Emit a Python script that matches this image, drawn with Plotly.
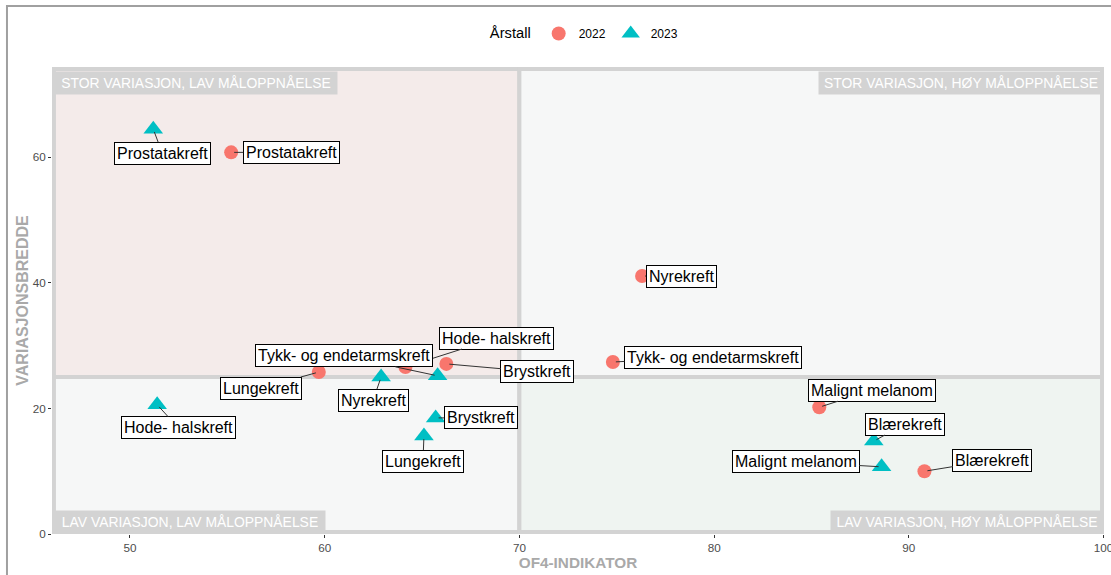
import plotly.graph_objects as go

# ---- data ----
cancers_2022 = ["Prostatakreft", "Nyrekreft", "Tykk- og endetarmskreft", "Lungekreft",
                "Hode- halskreft", "Brystkreft", "Malignt melanom", "Blærekreft"]
of4_2022 = [55.2, 76.3, 74.8, 59.7, 64.15, 66.25, 85.4, 90.8]
var_2022 = [60.8, 41.1, 27.4, 25.8, 26.6, 27.1, 20.2, 10.0]

cancers_2023 = ["Prostatakreft", "Hode- halskreft", "Nyrekreft", "Tykk- og endetarmskreft",
                "Brystkreft", "Lungekreft", "Blærekreft", "Malignt melanom"]
of4_2023 = [51.2, 51.4, 62.9, 65.8, 65.7, 65.1, 88.2, 88.6]
var_2023 = [64.5, 20.6, 25.0, 25.2, 18.5, 15.6, 14.8, 10.7]

# label offsets (pixels) for the repelled labels
off_2022 = [(60, 0), (39, 0), (100, -5), (-58, 16), (91, -29), (91, 8), (53, -17), (68, -11)]
off_2023 = [(9, 24), (21, 23), (-8, 23), (-94, -20), (45, 0), (-1, 25), (31, -17), (-86, -5)]

x_split = 70
y_split = 25
x_range = [46.0, 100.02]
y_range = [0, 74.4]
x_ticks = [50, 60, 70, 80, 90, 100]
y_ticks = [0, 20, 40, 60]

quadrant_labels = ["STOR VARIASJON, LAV MÅLOPPNÅELSE", "STOR VARIASJON, HØY MÅLOPPNÅELSE",
                   "LAV VARIASJON, LAV MÅLOPPNÅELSE", "LAV VARIASJON, HØY MÅLOPPNÅELSE"]
quadrant_widths = [276, 278, 264, 266]

FONT = "Arial, Liberation Sans, sans-serif"
C2022 = "#F8766D"
C2023 = "#00BFC4"

fig = go.Figure()
fig.add_trace(go.Scatter(x=of4_2022, y=var_2022, mode="markers", name="2022",
                         marker=dict(symbol="circle", size=14, color=C2022)))
fig.add_trace(go.Scatter(x=of4_2023, y=var_2023, mode="markers", name="2023",
                         marker=dict(symbol="triangle-up", size=17, color=C2023)))

# quadrant rectangles
ix = 0.1
iy = 0.32
quads = [
    (x_range[0] + ix, x_split, y_split, y_range[1] - iy, "#f4ebea"),
    (x_split, x_range[1] - ix, y_split, y_range[1] - iy, "#f6f7f7"),
    (x_range[0] + ix, x_split, y_range[0] + iy, y_split, "#f6f7f7"),
    (x_split, x_range[1] - ix, y_range[0] + iy, y_split, "#eff4f1"),
]
shapes = []
for x0, x1, y0, y1, col in quads:
    shapes.append(dict(type="rect", xref="x", yref="y", x0=x0, x1=x1, y0=y0, y1=y1,
                       fillcolor=col, line=dict(color="#d3d3d3", width=4), layer="below"))
# outer frame
shapes.append(dict(type="rect", xref="paper", yref="paper", x0=-0.0428, x1=1.02,
                   y0=-0.11, y1=1.1306, line=dict(color="#a0a0a0", width=2),
                   fillcolor="rgba(0,0,0,0)", layer="above"))

annotations = []
# quadrant corner labels
corner_pos = [(0, 1, "left", "top"), (1, 1, "right", "top"),
              (0, 0, "left", "bottom"), (1, 0, "right", "bottom")]
for txt, w, (px, py, xa, ya) in zip(quadrant_labels, quadrant_widths, corner_pos):
    annotations.append(dict(text=txt, xref="paper", yref="paper", x=px, y=py,
                            xanchor=xa, yanchor=ya, showarrow=False, width=w,
                            xshift=2 if px == 0 else 0, yshift=-4 if py == 1 else 0,
                            font=dict(family=FONT, size=13.9, color="white"),
                            bgcolor="#d3d3d3", borderpad=3))

def add_labels(names, xs, ys, offs):
    for n, x, y, (ax, ay) in zip(names, xs, ys, offs):
        annotations.append(dict(text=n, x=x, y=y, xref="x", yref="y", ax=ax, ay=ay,
                                showarrow=True, arrowhead=0, arrowwidth=1,
                                arrowcolor="#333333", standoff=3,
                                font=dict(family=FONT, size=16, color="black"),
                                bgcolor="white", bordercolor="black", borderwidth=1,
                                borderpad=2))

add_labels(cancers_2022, of4_2022, var_2022, off_2022)
add_labels(cancers_2023, of4_2023, var_2023, off_2023)

fig.update_layout(
    width=1111, height=575,
    margin=dict(l=52, r=7, t=67, b=41, autoexpand=False),
    paper_bgcolor="white", plot_bgcolor="white",
    font=dict(family=FONT, color="#4d4d4d"),
    shapes=shapes, annotations=annotations,
    legend=dict(orientation="h", x=0.507, xanchor="center", y=1.0707, yanchor="middle",
                title=dict(text="Årstall", font=dict(family=FONT, size=14.7, color="black")),
                font=dict(family=FONT, size=12, color="black"), itemwidth=30),
    xaxis=dict(range=x_range, tickvals=x_ticks, showgrid=False, zeroline=False,
               showline=False, ticks="outside", ticklen=3, tickcolor="#333333",
               ticklabeloverflow="allow", automargin=False,
               tickfont=dict(family=FONT, size=11.7, color="#4d4d4d"),
               title=dict(text="<b>OF4-INDIKATOR</b>", standoff=4,
                          font=dict(family=FONT, size=15.3, color="#a9a9a9"))),
    yaxis=dict(range=y_range, tickvals=y_ticks, showgrid=False, zeroline=False,
               showline=False, ticks="outside", ticklen=3, tickcolor="#333333",
               tickfont=dict(family=FONT, size=11.7, color="#4d4d4d"),
               title=dict(text="<b>VARIASJONSBREDDE</b>", standoff=0,
                          font=dict(family=FONT, size=16, color="#a9a9a9"))),
)

fig.write_html("out.html", config={"displayModeBar": False},
               post_script="document.body.style.margin='0';")
